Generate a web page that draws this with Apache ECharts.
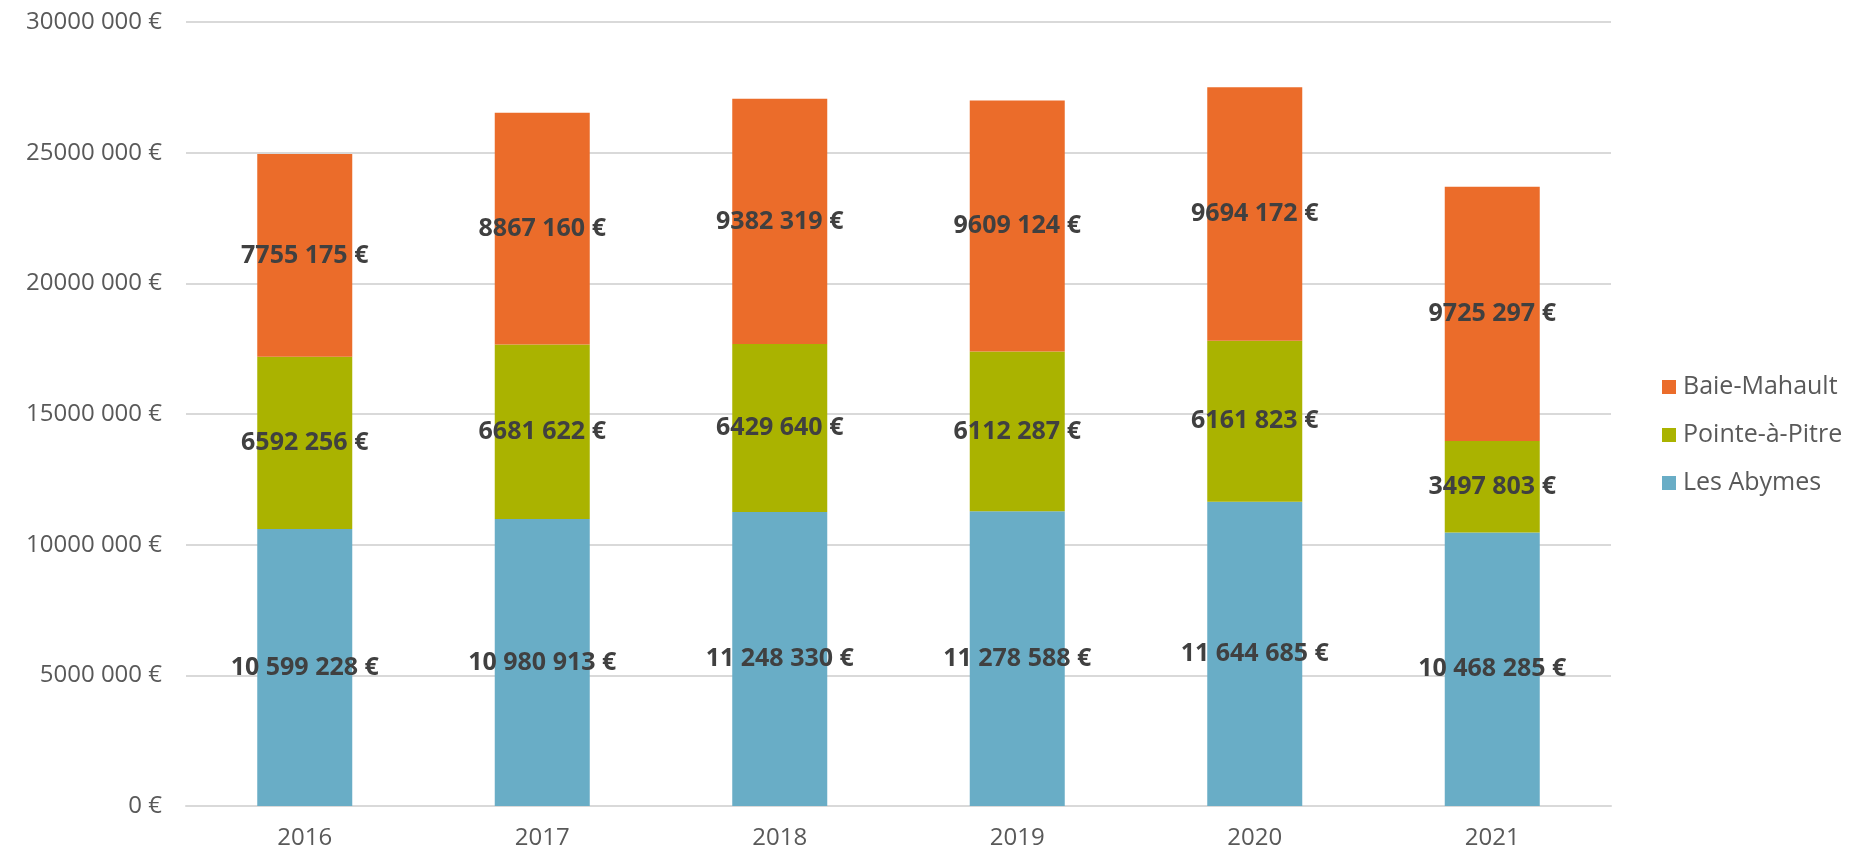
<!DOCTYPE html>
<html><head><meta charset="utf-8">
<script src="https://cdn.jsdelivr.net/npm/echarts@6/dist/echarts.min.js"></script>
<style>html,body{margin:0;padding:0;background:#fff}#c{width:1854px;height:857px}</style>
</head><body><div id="c"></div>
<script>
const years = ['2016','2017','2018','2019','2020','2021'];
const lesAbymes = [10599228, 10980913, 11248330, 11278588, 11644685, 10468285];
const pointeAPitre = [6592256, 6681622, 6429640, 6112287, 6161823, 3497803];
const baieMahault = [7755175, 8867160, 9382319, 9609124, 9694172, 9725297];
const seriesNames = ['Les Abymes', 'Pointe-à-Pitre', 'Baie-Mahault'];
const colors = ['#69ADC6', '#AAB300', '#EB6C2A'];

function pad3(n){ return String(n).padStart(3,'0'); }
function axisFmt(v){ if (v === 0) return '0 €'; return Math.floor(v/1000) + ' ' + pad3(v % 1000) + ' €'; }
function labelFmt(v){
  const s = String(Math.round(v));
  if (s.length <= 7) { return s.slice(0, s.length-3) + ' ' + s.slice(-3) + ' €'; }
  return s.replace(/\B(?=(\d{3})+(?!\d))/g, ' ') + ' €';
}
const FONT = 'Open Sans';
const chart = echarts.init(document.getElementById('c'));
const dataSets = [lesAbymes, pointeAPitre, baieMahault];
chart.setOption({
  animation: false,
  grid: { left: 186, right: 243, top: 22, bottom: 51 },
  legend: {
    orient: 'vertical', left: 1657, top: 369,
    itemWidth: 14, itemHeight: 14, itemGap: 22,
    icon: 'rect',
    data: ['Baie-Mahault', 'Pointe-à-Pitre', 'Les Abymes'],
    textStyle: { fontFamily: FONT, fontSize: 25, color: '#595959', lineHeight: 26, padding: [0,0,0,2] }
  },
  xAxis: {
    type: 'category', data: years,
    axisLine: { lineStyle: { color: '#D9D9D9', width: 2 } },
    axisTick: { show: false },
    axisLabel: { fontFamily: FONT, fontSize: 24, color: '#595959', margin: 20 }
  },
  yAxis: {
    type: 'value', min: 0, max: 30000000, interval: 5000000,
    axisLine: { show: false }, axisTick: { show: false },
    splitLine: { lineStyle: { color: '#D9D9D9', width: 2 } },
    axisLabel: { fontFamily: FONT, fontSize: 24, color: '#595959', margin: 24, formatter: axisFmt }
  },
  series: seriesNames.map((n, i) => ({
    name: n, type: 'bar', stack: 'total', barWidth: '40%',
    data: dataSets[i],
    itemStyle: { color: colors[i] },
    label: {
      show: true, position: 'inside',
      fontFamily: FONT, fontWeight: 'bold', fontSize: 25, color: '#404040',
      formatter: p => labelFmt(p.value)
    }
  }))
});
</script></body></html>
